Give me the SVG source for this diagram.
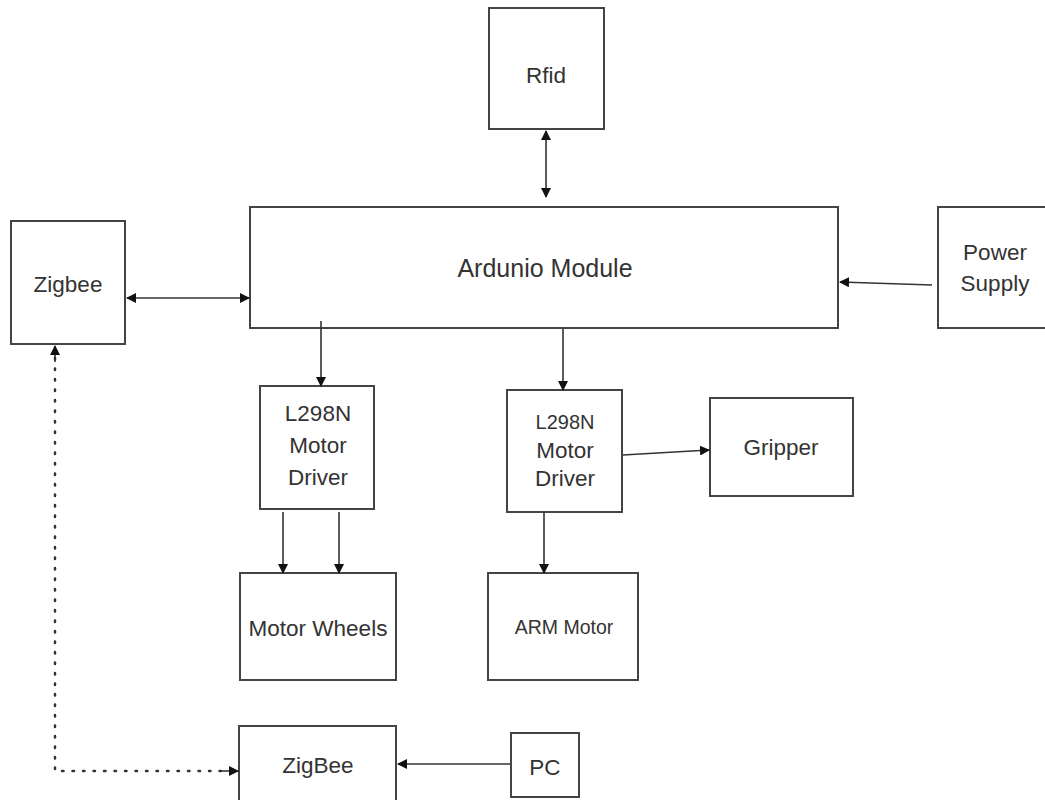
<svg xmlns="http://www.w3.org/2000/svg" width="1045" height="800" viewBox="0 0 1045 800">
<defs>
<marker id="ah" viewBox="0 0 10 10" refX="9" refY="5" markerWidth="10" markerHeight="10" markerUnits="userSpaceOnUse" orient="auto-start-reverse">
<path d="M0,0 L10,5 L0,10 z" fill="#111"/>
</marker>
<style>
.box{fill:#fff;stroke:#444;stroke-width:2}
.t{font-family:"Liberation Sans",Arial,sans-serif;fill:#333;text-anchor:middle;font-size:22.5px}
.c{fill:none;stroke:#333;stroke-width:1.6}
.d{fill:none;stroke:#333;stroke-width:2.5;stroke-dasharray:1.5 9;stroke-linecap:round}
</style>
</defs>
<rect width="1045" height="800" fill="#fff"/>
<g id="rfid"><rect class="box" x="489" y="8" width="115" height="121"/><text class="t" x="546" y="83">Rfid</text></g>
<g id="arduino"><rect class="box" x="250" y="207" width="588" height="121"/><text class="t" x="545" y="277" style="font-size:25px">Ardunio Module</text></g>
<g id="zigbee"><rect class="box" x="11" y="221" width="114" height="123"/><text class="t" x="68" y="292">Zigbee</text></g>
<g id="power"><rect class="box" x="938" y="207" width="110" height="121"/><text class="t" x="995" y="260">Power</text><text class="t" x="995" y="291">Supply</text></g>
<g id="driver1"><rect class="box" x="260" y="386" width="114" height="123"/><text class="t" x="318" y="421">L298N</text><text class="t" x="318" y="453">Motor</text><text class="t" x="318" y="485">Driver</text></g>
<g id="driver2"><rect class="box" x="507" y="390" width="115" height="122"/><text class="t" x="565" y="429" style="font-size:20px">L298N</text><text class="t" x="565" y="458">Motor</text><text class="t" x="565" y="486">Driver</text></g>
<g id="gripper"><rect class="box" x="710" y="398" width="143" height="98"/><text class="t" x="781" y="455">Gripper</text></g>
<g id="wheels"><rect class="box" x="240" y="573" width="156" height="107"/><text class="t" x="318" y="636">Motor Wheels</text></g>
<g id="arm"><rect class="box" x="488" y="573" width="150" height="107"/><text class="t" x="564" y="634" style="font-size:19.5px">ARM Motor</text></g>
<g id="zigbee2"><rect class="box" x="239" y="726" width="157" height="80"/><text class="t" x="318" y="773">ZigBee</text></g>
<g id="pc"><rect class="box" x="511" y="733" width="68" height="64"/><text class="t" x="545" y="775">PC</text></g>
<g id="connectors">
<path class="c" d="M546,131 L546,197" marker-start="url(#ah)" marker-end="url(#ah)"/>
<path class="c" d="M127,298 L249,298" marker-start="url(#ah)" marker-end="url(#ah)"/>
<path class="c" d="M932,285 L840,282" marker-end="url(#ah)"/>
<path class="c" d="M321,321 L321,386" marker-end="url(#ah)"/>
<path class="c" d="M563,329 L563,390" marker-end="url(#ah)"/>
<path class="c" d="M623,455 L709,450" marker-end="url(#ah)"/>
<path class="c" d="M283,512 L283,573" marker-end="url(#ah)"/>
<path class="c" d="M339,512 L339,573" marker-end="url(#ah)"/>
<path class="c" d="M544,512 L544,573" marker-end="url(#ah)"/>
<path class="c" d="M510,764 L398,764" marker-end="url(#ah)"/>
<path class="d" d="M55,358 L55,771 L225,771"/>
<path class="c" d="M55,362 L55,346" marker-end="url(#ah)"/>
<path class="c" d="M222,771 L238,771" marker-end="url(#ah)"/>
</g>
</svg>
